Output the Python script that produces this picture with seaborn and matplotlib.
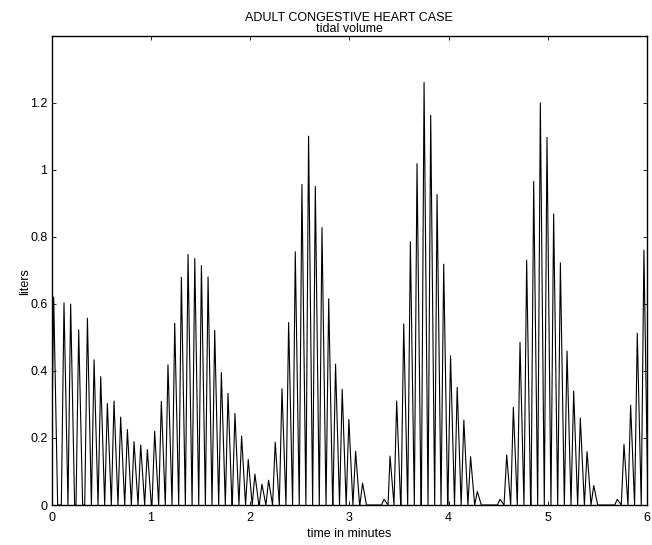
import numpy as np
import pandas as pd
import matplotlib
matplotlib.use("Agg")
import matplotlib.pyplot as plt
import seaborn as sns

# ---- data (peak time in minutes, peak tidal volume in liters)
peak_time = [0.020, 0.124, 0.191, 0.272, 0.360, 0.427, 0.494, 0.561, 0.628, 0.695,
             0.763, 0.830, 0.897, 0.964, 1.038, 1.105, 1.172, 1.240, 1.307, 1.374,
             1.442, 1.509, 1.576, 1.643, 1.710, 1.777, 1.847, 1.914, 1.981, 2.048,
             2.119, 2.186, 2.253, 2.321, 2.388, 2.455, 2.522, 2.589, 2.657, 2.724,
             2.792, 2.861, 2.928, 2.995, 3.063, 3.133, 3.350, 3.410, 3.477, 3.548,
             3.615, 3.682, 3.753, 3.820, 3.884, 3.951, 4.020, 4.087, 4.154, 4.222,
             4.290, 4.519, 4.586, 4.653, 4.720, 4.787, 4.858, 4.925, 4.992, 5.059,
             5.127, 5.194, 5.261, 5.328, 5.396, 5.463, 5.701, 5.768, 5.835, 5.902,
             5.969]
peak_volume = [0.620, 0.603, 0.599, 0.522, 0.557, 0.433, 0.383, 0.303, 0.310, 0.262,
               0.225, 0.189, 0.179, 0.165, 0.220, 0.309, 0.418, 0.542, 0.679, 0.747,
               0.735, 0.714, 0.680, 0.521, 0.395, 0.333, 0.273, 0.206, 0.136, 0.092,
               0.062, 0.074, 0.187, 0.347, 0.544, 0.755, 0.956, 1.100, 0.950, 0.827,
               0.615, 0.420, 0.345, 0.255, 0.160, 0.065, 0.017, 0.146, 0.310, 0.540,
               0.785, 1.018, 1.260, 1.162, 0.926, 0.718, 0.445, 0.351, 0.253, 0.144,
               0.040, 0.017, 0.149, 0.291, 0.485, 0.730, 0.965, 1.199, 1.096, 0.868,
               0.722, 0.459, 0.340, 0.259, 0.159, 0.058, 0.017, 0.181, 0.298, 0.512,
               0.760]

x_ticks = [0, 1, 2, 3, 4, 5, 6]
x_tick_labels = ["0", "1", "2", "3", "4", "5", "6"]
y_ticks = [0, 0.2, 0.4, 0.6, 0.8, 1.0, 1.2]
y_tick_labels = ["0", "0.2", "0.4", "0.6", "0.8", "1", "1.2"]

title_main = "ADULT CONGESTIVE HEART CASE"
title_sub = "tidal volume"
x_label = "time in minutes"
y_label = "liters"

# ---- breath waveform: inspiration ramp, slower expiration ramp, rest at 0 in apnea
RISE = 0.027
FALL = 0.040
t, v = [], []
for tp, vp in zip(peak_time, peak_volume):
    start = tp - RISE
    if t and start < t[-1]:
        start = t[-1]
    if not t or start > t[-1]:
        t.append(start)
        v.append(0.0)
    t += [tp, tp + FALL]
    v += [vp, 0.0]
df = pd.DataFrame({"time": t, "volume": v})

sns.set_theme(style="white")
plt.rcParams["font.family"] = ["Liberation Sans", "DejaVu Sans"]

W, H = 652, 545
fig = plt.figure(figsize=(W / 100, H / 100), dpi=100)
ax_l, ax_r, ax_t, ax_b = 51.7, 647.0, 35.5, 505.0
ax = fig.add_axes([ax_l / W, 1 - ax_b / H, (ax_r - ax_l) / W, (ax_b - ax_t) / H])

sns.lineplot(data=df, x="time", y="volume", sort=False, estimator=None,
             color="black", linewidth=0.8, ax=ax)

ax.set_xlim(0, 6)
ax.set_ylim(0, 1.4)
ax.set_xticks(x_ticks)
ax.set_xticklabels(x_tick_labels)
ax.set_yticks(y_ticks)
ax.set_yticklabels(y_tick_labels)
ax.tick_params(direction="in", length=3, width=0.6, color="black",
               labelsize=9, labelcolor="black", top=True, right=True,
               bottom=True, left=True)
ax.tick_params(axis="x", pad=5)
ax.tick_params(axis="y", pad=3)
for s in ax.spines.values():
    s.set_visible(True)
    s.set_color("black")
    s.set_linewidth(1.0)

ax.set_xlabel(x_label, fontsize=9, color="black")
ax.xaxis.set_label_coords(0.5, -(537 - ax_b) / (ax_b - ax_t))
ax.xaxis.label.set_va("baseline")
ax.set_ylabel(y_label, fontsize=9, color="black")
ax.yaxis.set_label_coords((25 - ax_l) / (ax_r - ax_l), (ax_b - 282) / (ax_b - ax_t))
ax.yaxis.label.set_va("center")

cx = (ax_l + ax_r) / 2 / W
fig.text(cx, 1 - 20.7 / H, title_main, ha="center", va="baseline", fontsize=9, color="black")
fig.text(cx, 1 - 31.7 / H, title_sub, ha="center", va="baseline", fontsize=9, color="black")

fig.savefig("out.png", dpi=100, facecolor="white")
